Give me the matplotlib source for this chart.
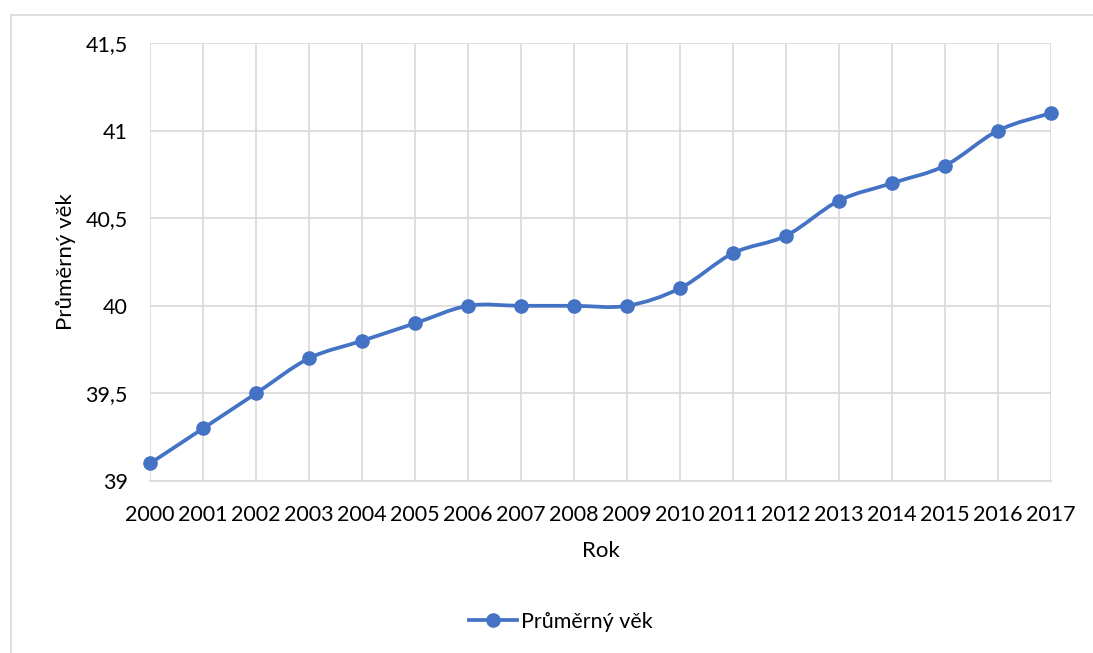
import numpy as np
import matplotlib.pyplot as plt
from matplotlib.path import Path
from matplotlib.patches import PathPatch, Rectangle
from matplotlib.lines import Line2D
from matplotlib.ticker import FuncFormatter

plt.rcParams['font.family'] = ['Lato', 'DejaVu Sans']

# Data
years = list(range(2000, 2018))
avg_age = [39.1, 39.3, 39.5, 39.7, 39.8, 39.9, 40.0, 40.0, 40.0, 40.0,
           40.1, 40.3, 40.4, 40.6, 40.7, 40.8, 41.0, 41.1]

blue = '#4472C4'
grid = '#d9d9d9'

W, H = 1093, 653
fig = plt.figure(figsize=(W / 100, H / 100), dpi=100)
ax = fig.add_axes([150 / W, 1 - 481 / H, (1051 - 150) / W, (481 - 43) / H])

# chart border (Excel chart area)
fig.patches.append(Rectangle((11 / W, -0.1), 1.2, 1 - 15 / H + 0.1,
                             transform=fig.transFigure, fill=False,
                             edgecolor=grid, linewidth=1.2))

# smoothed line, Catmull-Rom style bezier through the points
x = np.array(years, dtype=float)
y = np.array(avg_age)
verts = [(x[0], y[0])]
codes = [Path.MOVETO]
n = len(x)
for i in range(n - 1):
    p0 = np.array([x[max(i - 1, 0)], y[max(i - 1, 0)]])
    p1 = np.array([x[i], y[i]])
    p2 = np.array([x[i + 1], y[i + 1]])
    p3 = np.array([x[min(i + 2, n - 1)], y[min(i + 2, n - 1)]])
    c1 = p1 + (p2 - p0) / 6
    c2 = p2 - (p3 - p1) / 6
    verts += [tuple(c1), tuple(c2), tuple(p2)]
    codes += [Path.CURVE4] * 3
ax.add_patch(PathPatch(Path(verts, codes), fill=False, edgecolor=blue,
                       linewidth=2.7, capstyle='round', zorder=3))
ax.plot(years, avg_age, linestyle='none', marker='o', markersize=9.5,
        color=blue, zorder=4, clip_on=False)

ax.set_xlim(2000, 2017)
ax.set_ylim(39, 41.5)
ax.set_xticks(years)
ax.set_yticks([39, 39.5, 40, 40.5, 41, 41.5])
ax.yaxis.set_major_formatter(FuncFormatter(lambda v, p: ('%g' % v).replace('.', ',')))
ax.grid(True, color=grid, linewidth=1.2)
ax.set_axisbelow(True)
for s in ['left', 'right', 'top']:
    ax.spines[s].set_visible(False)
ax.spines['bottom'].set_color(grid)
ax.spines['bottom'].set_linewidth(1.2)
ax.tick_params(axis='both', length=0, labelsize=15.5, colors='#000000')
ax.tick_params(axis='y', pad=16)
ax.tick_params(axis='x', pad=17)

ax.set_xlabel('Rok', fontsize=16, labelpad=12)
ax.set_ylabel('Průměrný věk', fontsize=16, labelpad=7)

handle = Line2D([], [], color=blue, linewidth=2.7, marker='o', markersize=9.5)
fig.legend([handle], ['Průměrný věk'], loc='center',
           bbox_to_anchor=(561 / W, 1 - 622 / H), frameon=False,
           fontsize=15.5, handlelength=2.2, handletextpad=0.2)

fig.savefig('out.png', dpi=100)
